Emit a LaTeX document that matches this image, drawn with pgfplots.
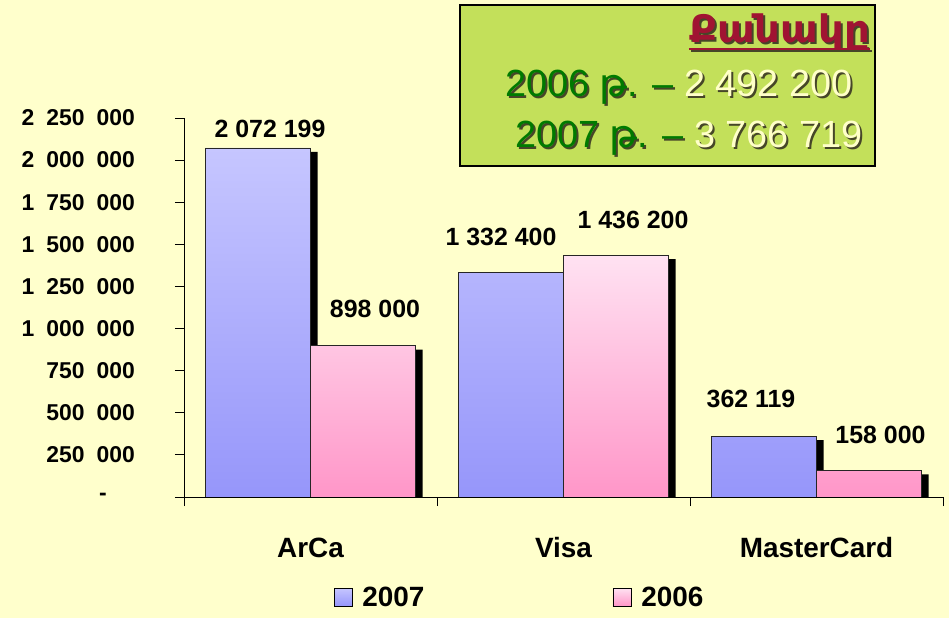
\documentclass[border=0pt]{standalone}
\usepackage{fontspec}
\setmainfont{Liberation Sans}
\newfontfamily\armfont{DejaVu Sans}
\usepackage{pgfplots}
\usepackage{pgfplotstable}
\pgfplotsset{compat=1.18}
\definecolor{bgyellow}{RGB}{255,255,204}
\definecolor{blueTop}{RGB}{198,198,255}
\definecolor{blueBot}{RGB}{150,150,250}
\definecolor{pinkTop}{RGB}{255,226,242}
\definecolor{pinkBot}{RGB}{255,150,200}
\definecolor{boxgreen}{RGB}{195,224,90}
\definecolor{titlered}{RGB}{160,20,50}
\definecolor{txtgreen}{RGB}{0,122,0}
\definecolor{numyellow}{RGB}{255,255,200}
\definecolor{shadowtxt}{RGB}{70,70,40}
\newcommand{\ts}{\hspace{12bp}}
% text with a small dark drop shadow
\newcommand{\shad}[2]{\rlap{\kern2bp\raisebox{-2bp}{#1}}#2}

% count of cards, 2007 and 2006
\pgfplotstableread[col sep=comma]{
x,y,dx,dy,lab
0,2072199,12,10,2 072 199
1,1332400,-10,27,1 332 400
2,362119,-13,29,362 119
}\tabA
\pgfplotstableread[col sep=comma]{
x,y,dx,dy,lab
0,898000,12,28,898 000
1,1436200,17,27,1 436 200
2,158000,11.5,27,158 000
}\tabB

\newcommand{\lineA}[2]{{\color{#1}2006 {\armfont թ}. –} {\color{#2}2 492 200}}
\newcommand{\lineB}[2]{{\color{#1}2007 {\armfont թ}. –} {\color{#2}3 766 719}}

\begin{document}
\begin{tikzpicture}
\path[fill=bgyellow, use as bounding box] (0,0) rectangle (949bp,618bp);
\begin{axis}[
  at={(184bp,121bp)}, anchor=south west,
  scale only axis, width=759bp, height=379bp,
  xmin=-0.5, xmax=2.5, ymin=0, ymax=2250000,
  axis lines=left, axis line style={-, black, line width=0.8bp},
  tick align=outside, major tick length=9bp,
  tick style={black, line width=0.8bp},
  xtick={-0.5,0.5,1.5,2.5}, xticklabels={},
  extra x ticks={0,1,2}, extra x tick labels={ArCa,Visa,MasterCard},
  extra x tick style={major tick length=0pt,
    xticklabel style={font=\fontsize{28}{28}\selectfont\bfseries, anchor=base, inner sep=0pt, yshift=-60bp}},
  ytick={0,250000,500000,750000,1000000,1250000,1500000,1750000,2000000,2250000},
  yticklabels={-\kern28bp, 250\ts000, 500\ts000, 750\ts000, 1\ts000\ts000, 1\ts250\ts000,
    1\ts500\ts000, 1\ts750\ts000, 2\ts000\ts000, 2\ts250\ts000},
  yticklabel style={font=\fontsize{23}{23}\selectfont\bfseries, anchor=east, inner sep=0pt, xshift=-40bp},
  scaled y ticks=false,
  legend columns=2,
  legend style={draw=none, fill=none, at={(0.193,-0.264)}, anchor=west,
    font=\fontsize{28}{28}\selectfont\bfseries,
    /tikz/every odd column/.append style={column sep=8bp},
    /tikz/every even column/.append style={column sep=186bp}},
  legend image code/.code={\draw[#1, draw=black, line width=0.8bp] (0bp,-9bp) rectangle (18bp,9bp);},
]
% shadows
\addplot[ybar, bar width=105bp, bar shift=-52.5bp, fill=black, draw=none,
  xshift=7bp, yshift=-4bp, forget plot] table[x=x, y=y] {\tabA};
\addplot[ybar, bar width=105bp, bar shift=52.5bp, fill=black, draw=none,
  xshift=7bp, yshift=-4bp, forget plot] table[x=x, y=y] {\tabB};
% bars
\addplot[ybar, bar width=105bp, bar shift=-52.5bp, draw=black!85, line width=0.7bp,
  top color=blueTop, bottom color=blueBot,
  point meta=explicit symbolic, nodes near coords={\pgfplotspointmeta},
  visualization depends on={\thisrow{dx} \as \dx},
  visualization depends on={\thisrow{dy} \as \dy},
  every node near coord/.append style={font=\fontsize{25}{25}\selectfont\bfseries,
    text=black, anchor=base, inner sep=0pt, xshift={(\dx-52.5)*1bp}, yshift=\dy bp}]
  table[x=x, y=y, meta=lab] {\tabA};
\addlegendentry{2007}
\addplot[ybar, bar width=105bp, bar shift=52.5bp, draw=black!85, line width=0.7bp,
  top color=pinkTop, bottom color=pinkBot,
  point meta=explicit symbolic, nodes near coords={\pgfplotspointmeta},
  visualization depends on={\thisrow{dx} \as \dx},
  visualization depends on={\thisrow{dy} \as \dy},
  every node near coord/.append style={font=\fontsize{25}{25}\selectfont\bfseries,
    text=black, anchor=base, inner sep=0pt, xshift={(\dx+52.5)*1bp}, yshift=\dy bp}]
  table[x=x, y=y, meta=lab] {\tabB};
\addlegendentry{2006}
\end{axis}
% title box
\draw[fill=boxgreen, draw=black, line width=1.5bp] (460bp,452bp) rectangle (875bp,613bp);
\node[anchor=base east, inner sep=0pt, xscale=1.06, font=\armfont\bfseries\fontsize{38}{38}\selectfont] (t) at (870bp,575bp)
  {\shad{\color{shadowtxt}Քանակը}{\color{titlered}Քանակը}};
\draw[shadowtxt, line width=2bp] ([xshift=2bp, yshift=-8bp]t.base west) -- ([xshift=2bp, yshift=-8bp]t.base east);
\draw[titlered, line width=2bp] ([yshift=-6bp]t.base west) -- ([yshift=-6bp]t.base east);
\node[anchor=base west, inner sep=0pt, font=\fontsize{38}{38}\selectfont] at (505bp,521bp)
  {\shad{\lineA{shadowtxt}{shadowtxt}}{\lineA{txtgreen}{numyellow}}};
\node[anchor=base west, inner sep=0pt, font=\fontsize{38}{38}\selectfont] at (515bp,470bp)
  {\shad{\lineB{shadowtxt}{shadowtxt}}{\lineB{txtgreen}{numyellow}}};
\end{tikzpicture}
\end{document}
